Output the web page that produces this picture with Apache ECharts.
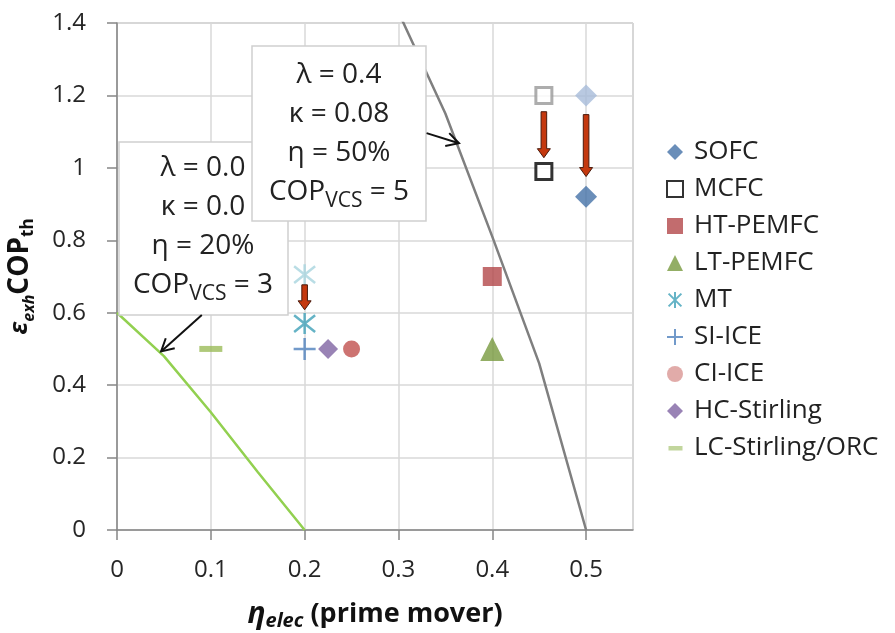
<!DOCTYPE html>
<html>
<head>
<meta charset="utf-8">
<title>COP chart</title>
<script src="https://cdn.jsdelivr.net/npm/echarts@6/dist/echarts.min.js"></script>
<style>
  html, body { margin: 0; padding: 0; background: #fff; }
  #main { width: 895px; height: 633px; }
</style>
</head>
<body>
<div id="main"></div>
<script>
// points (x = eta_elec, y = eps*COP_th)
var sofcNow = [[0.5, 0.92]];
var sofcOld = [[0.5, 1.2]];
var mcfcNow = [[0.455, 0.99]];
var mcfcOld = [[0.455, 1.2]];
var htPemfc = [[0.4, 0.7]];
var ltPemfc = [[0.4, 0.5]];
var mtNow = [[0.2, 0.57]];
var mtOld = [[0.2, 0.705]];
var siIce = [[0.2, 0.5]];
var ciIce = [[0.25, 0.5]];
var hcStirling = [[0.225, 0.5]];
var lcStirling = [[0.1, 0.5]];

// break-even curves
var lowCurveX = [0, 0.05, 0.1, 0.15, 0.2];
var lowCurveY = [0.6, 0.48, 0.325, 0.16, 0];
var highCurveX = [0.3, 0.35, 0.4, 0.45, 0.5];
var highCurveY = [1.43, 1.15, 0.81, 0.46, 0];

// arrows [x1, y1, x2, y2]
var shiftArrows = [[0.455, 1.155, 0.455, 1.028], [0.5, 1.147, 0.5, 0.976], [0.2, 0.677, 0.2, 0.608]];
var noteArrows = [[0.0904, 0.594, 0.047, 0.493], [0.33, 1.096, 0.3645, 1.068]];

function zip(xs, ys) {
  var out = [];
  for (var i = 0; i < xs.length; i++) out.push([xs[i], ys[i]]);
  return out;
}

var FONT = '"Open Sans", "Noto Sans", "DejaVu Sans", sans-serif';
var STAR = 'path://M0,-10L0,10M-8,-8L8,8M-8,8L8,-8';
var PLUS = 'path://M0,-10L0,10M-10,0L10,0';
var DASH_ICON = 'path://M0,0L0,0M0,16L0,16M1,6h14v4.5h-14z';

function renderShift(params, api) {
  var p1 = api.coord([api.value(0), api.value(1)]);
  var p2 = api.coord([api.value(2), api.value(3)]);
  var x = p1[0], y1 = p1[1], y2 = p2[1];
  var sw = 2.8, hw = 6.5, hl = 9;
  return {
    type: 'polygon',
    shape: { points: [[x - sw, y1], [x + sw, y1], [x + sw, y2 - hl], [x + hw, y2 - hl], [x, y2], [x - hw, y2 - hl], [x - sw, y2 - hl]] },
    style: { fill: '#c4380e', stroke: '#4a1a0c', lineWidth: 1 }
  };
}

function renderNote(params, api) {
  var p1 = api.coord([api.value(0), api.value(1)]);
  var p2 = api.coord([api.value(2), api.value(3)]);
  var ang = Math.atan2(p2[1] - p1[1], p2[0] - p1[0]);
  var L = 14, a = 0.5;
  var h1 = [p2[0] - L * Math.cos(ang - a), p2[1] - L * Math.sin(ang - a)];
  var h2 = [p2[0] - L * Math.cos(ang + a), p2[1] - L * Math.sin(ang + a)];
  return {
    type: 'group',
    children: [
      { type: 'line', shape: { x1: p1[0], y1: p1[1], x2: p2[0], y2: p2[1] }, style: { stroke: '#111', lineWidth: 2 } },
      { type: 'polyline', shape: { points: [h1, p2, h2] }, style: { stroke: '#111', lineWidth: 2, fill: null } }
    ]
  };
}

var boxRich = {
  sub: { fontFamily: FONT, fontSize: 21, lineHeight: 20, verticalAlign: 'bottom', fill: '#222' }
};

var chart = echarts.init(document.getElementById('main'));
var option = {
  animation: false,
  backgroundColor: '#fff',
  grid: { left: 117, right: 262, top: 23, bottom: 103, show: true, borderColor: '#a6a6a6', borderWidth: 1, containLabel: false, outerBoundsMode: 'none' },
  legend: {
    orient: 'vertical',
    left: 661,
    top: 134,
    itemWidth: 16,
    itemHeight: 16,
    itemGap: 11,
    textStyle: { fontFamily: FONT, fontSize: 26, color: '#222', lineHeight: 26, padding: [0, 0, 0, 6] },
    data: [
      { name: 'SOFC' },
      { name: 'MCFC' },
      { name: 'HT-PEMFC' },
      { name: 'LT-PEMFC' },
      { name: 'MT' },
      { name: 'SI-ICE' },
      { name: 'CI-ICE', itemStyle: { color: '#d99694' } },
      { name: 'HC-Stirling' },
      { name: 'LC-Stirling/ORC', icon: DASH_ICON, itemStyle: { color: '#b3cc84' } }
    ]
  },
  xAxis: {
    type: 'value', min: 0, max: 0.55, interval: 0.1,
    axisLine: { show: true, onZero: false, lineStyle: { color: '#868686', width: 1.5 } },
    axisTick: { show: true, inside: false, length: 10, lineStyle: { color: '#868686', width: 1.5 } },
    splitLine: { show: true, lineStyle: { color: '#d9d9d9', width: 1.5 } },
    axisLabel: { fontFamily: FONT, fontSize: 24, color: '#262626', margin: 28, showMaxLabel: false },
    name: '{eta|η}{elec|elec}{b| (prime mover)}',
    nameLocation: 'middle',
    nameGap: 67,
    nameMoveOverlap: false,
    nameTextStyle: {
      fontFamily: FONT, fontSize: 27, fontWeight: 'bold', color: '#111', lineHeight: 34,
      rich: {
        eta: { fontFamily: FONT, fontSize: 30, fontWeight: 'bold', fontStyle: 'italic', color: '#111' },
        elec: { fontFamily: FONT, fontSize: 20, fontWeight: 'bold', fontStyle: 'italic', color: '#111', verticalAlign: 'bottom', lineHeight: 18 },
        b: { fontFamily: FONT, fontSize: 27, fontWeight: 'bold', color: '#111' }
      }
    }
  },
  yAxis: {
    type: 'value', min: 0, max: 1.4, interval: 0.2,
    axisLine: { show: true, onZero: false, lineStyle: { color: '#868686', width: 1.5 } },
    axisTick: { show: true, inside: false, length: 10, lineStyle: { color: '#868686', width: 1.5 } },
    splitLine: { show: true, lineStyle: { color: '#d9d9d9', width: 1.5 } },
    axisLabel: { fontFamily: FONT, fontSize: 24, color: '#262626', margin: 31 },
    name: '{eps|ε}{exh|exh}{b|COP}{th|th}',
    nameLocation: 'middle',
    nameRotate: 90,
    nameGap: 80,
    nameMoveOverlap: false,
    nameTextStyle: {
      fontFamily: FONT, fontSize: 28, fontWeight: 'bold', color: '#111', lineHeight: 34,
      rich: {
        eps: { fontFamily: FONT, fontSize: 25, fontWeight: 'bold', fontStyle: 'italic', color: '#111' },
        exh: { fontFamily: FONT, fontSize: 16, fontWeight: 'bold', fontStyle: 'italic', color: '#111', verticalAlign: 'bottom', lineHeight: 16 },
        b: { fontFamily: FONT, fontSize: 28, fontWeight: 'bold', color: '#111' },
        th: { fontFamily: FONT, fontSize: 17, fontWeight: 'bold', color: '#111', verticalAlign: 'bottom', lineHeight: 16 }
      }
    }
  },
  graphic: [
    { type: 'rect', z: 10, shape: { x: 119, y: 142, width: 169, height: 173 }, style: { fill: '#fff', stroke: '#d0d0d0', lineWidth: 1.5 } },
    { type: 'text', z: 11, x: 203, y: 227,
      style: { text: 'λ = 0.0\nκ = 0.0\nη = 20%\nCOP{sub|VCS} = 3', font: '28px ' + FONT, fill: '#222', align: 'center', verticalAlign: 'middle', lineHeight: 39, rich: boxRich } },
    { type: 'rect', z: 12, shape: { x: 252, y: 46, width: 174, height: 175 }, style: { fill: '#fff', stroke: '#d0d0d0', lineWidth: 1.5 } },
    { type: 'text', z: 13, x: 339, y: 134,
      style: { text: 'λ = 0.4\nκ = 0.08\nη = 50%\nCOP{sub|VCS} = 5', font: '28px ' + FONT, fill: '#222', align: 'center', verticalAlign: 'middle', lineHeight: 39, rich: boxRich } }
  ],
  series: [
    { name: 'low-curve', type: 'line', data: zip(lowCurveX, lowCurveY), showSymbol: false, symbol: 'none', lineStyle: { color: '#92d050', width: 2.5 }, z: 2 },
    { name: 'high-curve', type: 'line', data: zip(highCurveX, highCurveY), showSymbol: false, symbol: 'none', clip: true, lineStyle: { color: '#7f7f7f', width: 2.5 }, z: 2 },
    { name: 'SOFC', type: 'scatter', data: sofcNow, symbol: 'diamond', symbolSize: 22, itemStyle: { color: '#4572a7' } },
    { name: 'SOFC-old', type: 'scatter', data: sofcOld, symbol: 'diamond', symbolSize: 22, itemStyle: { color: '#a7bcd9' } },
    { name: 'MCFC', type: 'scatter', data: mcfcNow, symbol: 'rect', symbolSize: 16, itemStyle: { color: '#fff', borderColor: '#000', borderWidth: 3 } },
    { name: 'MCFC-old', type: 'scatter', data: mcfcOld, symbol: 'rect', symbolSize: 16, itemStyle: { color: '#fff', borderColor: '#999', borderWidth: 3 } },
    { name: 'HT-PEMFC', type: 'scatter', data: htPemfc, symbol: 'rect', symbolSize: 19, itemStyle: { color: '#b3474a' } },
    { name: 'LT-PEMFC', type: 'scatter', data: ltPemfc, symbol: 'triangle', symbolSize: 24, itemStyle: { color: '#789a3e' } },
    { name: 'MT', type: 'scatter', data: mtNow, symbol: STAR, symbolSize: 21, itemStyle: { color: '#3ea0b8', borderColor: '#3ea0b8', borderWidth: 2.5 } },
    { name: 'MT-old', type: 'scatter', data: mtOld, symbol: STAR, symbolSize: 21, itemStyle: { color: '#a8d4de', borderColor: '#a8d4de', borderWidth: 2.5 } },
    { name: 'SI-ICE', type: 'scatter', data: siIce, symbol: PLUS, symbolSize: 22, itemStyle: { color: '#4f81bd', borderColor: '#4f81bd', borderWidth: 2.5 } },
    { name: 'CI-ICE', type: 'scatter', data: ciIce, symbol: 'circle', symbolSize: 17, itemStyle: { color: '#c0504d' } },
    { name: 'HC-Stirling', type: 'scatter', data: hcStirling, symbol: 'diamond', symbolSize: 20, itemStyle: { color: '#8064a2' } },
    { name: 'LC-Stirling/ORC', type: 'scatter', data: lcStirling, symbol: 'rect', symbolSize: [23, 6], itemStyle: { color: '#9bbb59' } },
    { name: 'shift-arrows', type: 'custom', renderItem: renderShift, data: shiftArrows, encode: { x: [0, 2], y: [1, 3] }, z: 5 },
    { name: 'note-arrows', type: 'custom', renderItem: renderNote, data: noteArrows, encode: { x: [0, 2], y: [1, 3] }, z: 20, clip: false }
  ]
};
chart.setOption(option);
</script>
</body>
</html>
